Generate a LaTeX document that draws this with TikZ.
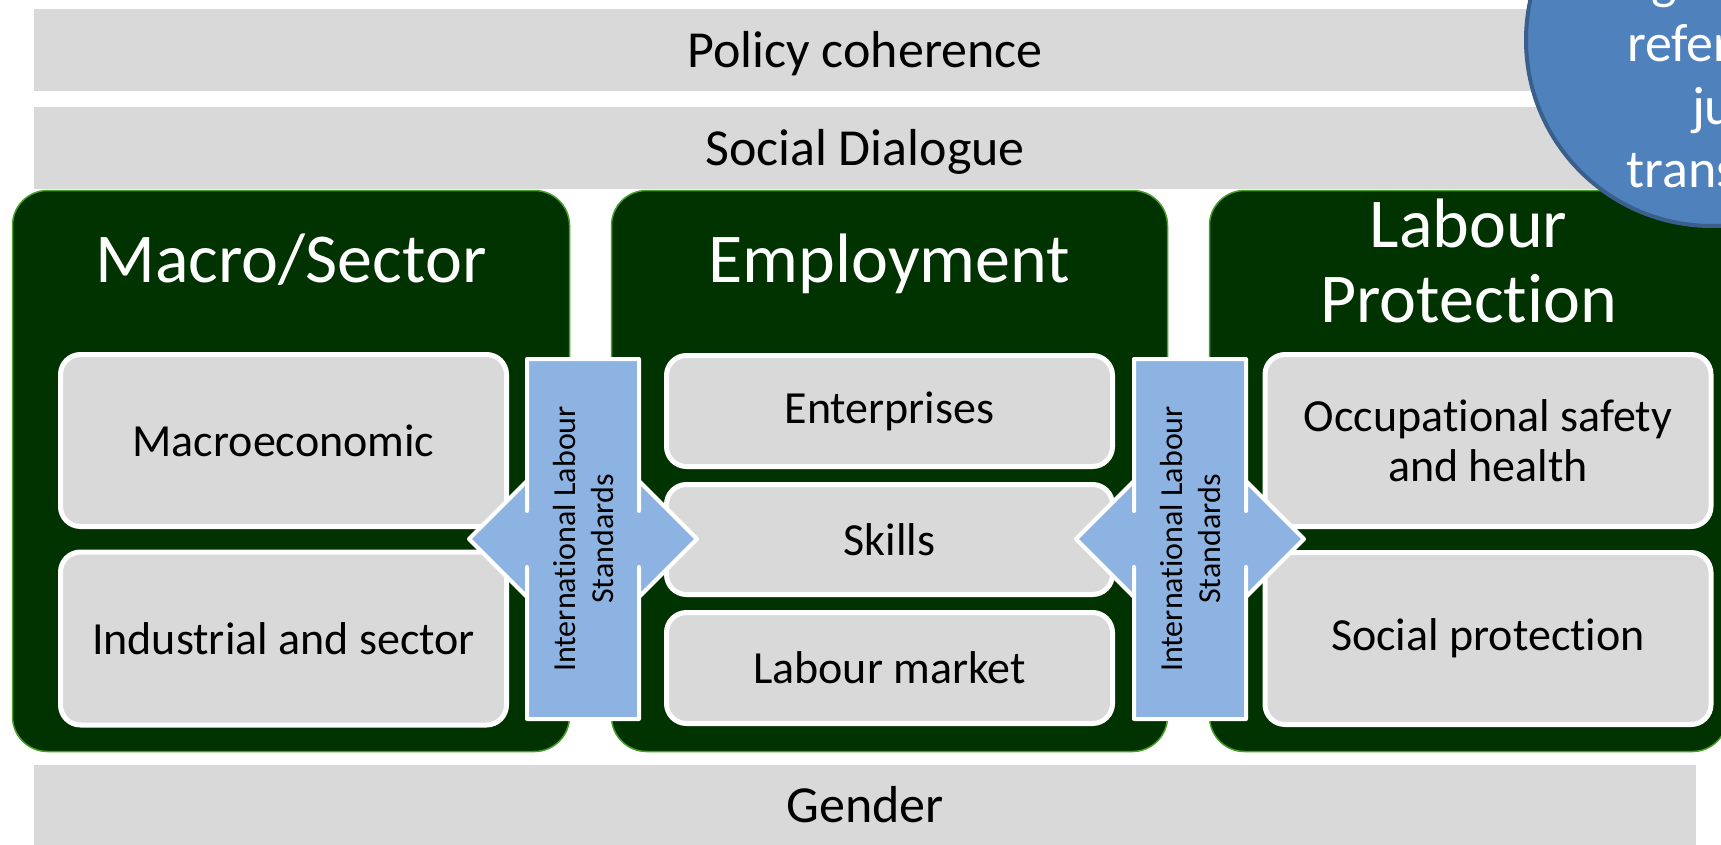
\documentclass[tikz,border=0pt]{standalone}
\usepackage{fontspec}
\setmainfont{Carlito}[Ligatures={CommonOff,ContextualOff}]

\definecolor{bargray}{HTML}{D9D9D9}
\definecolor{panelgreen}{HTML}{003300}
\definecolor{panelrim}{HTML}{4A9E2A}
\definecolor{ilsblue}{HTML}{8DB3E2}
\definecolor{circblue}{HTML}{4F81BD}
\definecolor{circrim}{HTML}{3A5F8B}

\tikzset{
 bar/.style={fill=bargray, minimum width=1662pt, minimum height=82pt, inner sep=0pt,
  font=\fontsize{52}{62}\selectfont, text height=34pt, text depth=0pt},
 panel/.style={fill=panelgreen, draw=panelrim, line width=1.5pt, rounded corners=35pt,
  minimum height=561pt, inner sep=0pt},
 title/.style={text=white, font=\fontsize{70}{75}\selectfont, align=center, anchor=base},
 item/.style={fill=bargray, draw=white, line width=5pt, rounded corners=20pt,
  minimum width=446pt, inner sep=0pt, font=\fontsize{46}{50}\selectfont, align=center},
 ils/.style={fill=ilsblue, draw=white, line width=4pt, line join=round},
 ilstext/.style={rotate=90, align=center, font=\fontsize{32}{38}\selectfont},
 circtext/.style={text=white, anchor=base, font=\fontsize{54}{62}\selectfont},
}

\begin{document}
\begin{tikzpicture}[x=1pt,y=-1pt]
\path[use as bounding box] (0,0) rectangle (1721,844);
\clip (0,0) rectangle (1721,844);

% bars
\node[bar] (policy) at (865,50) {Policy coherence};
\node[bar] (dialogue) at (865,148) {Social Dialogue};
\node[bar, minimum height=81pt] (gender) at (865,805.5) {Gender};

% panels
\node[panel, minimum width=557pt] (macro) at (291,471) {};
\node[panel, minimum width=556pt] (employ) at (889.5,471) {};
\node[panel, minimum width=518pt] (protect) at (1468.5,471) {};

\node[title] (macrotitle) at (291,282) {Macro/Sector};
\node[title] (employtitle) at (889.5,282) {Employment};
\node[title] (protecttitle) at (1468.5,322) {Labour\\Protection};

% items
\node[item, minimum height=172pt] (macroeco) at (283.5,440.5) {Macroeconomic};
\node[item, minimum height=173pt] (industry) at (283.5,638.5) {Industrial and sector};
\node[item, minimum height=111pt] (enterprise) at (889.5,411) {Enterprises};
\node[item, minimum height=110pt] (skills) at (889.5,539.5) {Skills};
\node[item, minimum height=111pt] (market) at (889.5,668) {Labour market};
\node[item, minimum height=172pt] (osh) at (1488,440.5) {Occupational safety\\and health};
\node[item, minimum height=172pt] (socprot) at (1488,638.5) {Social protection};

% standards arrows
\foreach \cx/\nm in {583/ilsleft, 1190/ilsright} {
 \begin{scope}[shift={(\cx,539)}]
  \def\w{56} \def\h{180} \def\hh{58} \def\sh{28} \def\hl{58}
  \draw[ils] (-\w,-\h) -- (\w,-\h) -- (\w,-\sh) -- (\w,-\hh) -- (\w+\hl,0) -- (\w,\hh)
   -- (\w,\sh) -- (\w,\h) -- (-\w,\h) -- (-\w,\sh) -- (-\w,\hh) -- (-\w-\hl,0)
   -- (-\w,-\hh) -- (-\w,-\sh) -- cycle;
  \node[ilstext] (\nm) at (0,0) {International Labour\\Standards};
 \end{scope}
}

% circle
\node[circle, fill=circblue, draw=circrim, line width=4pt, minimum size=372pt, inner sep=0pt]
 (guide) at (1712,40) {};
\foreach \w [count=\i] in {guiding,reference,just,transition}
 \node[circtext] (guide\i) at (1732,{-2+63*(\i-1)}) {\w};

\end{tikzpicture}
\end{document}
